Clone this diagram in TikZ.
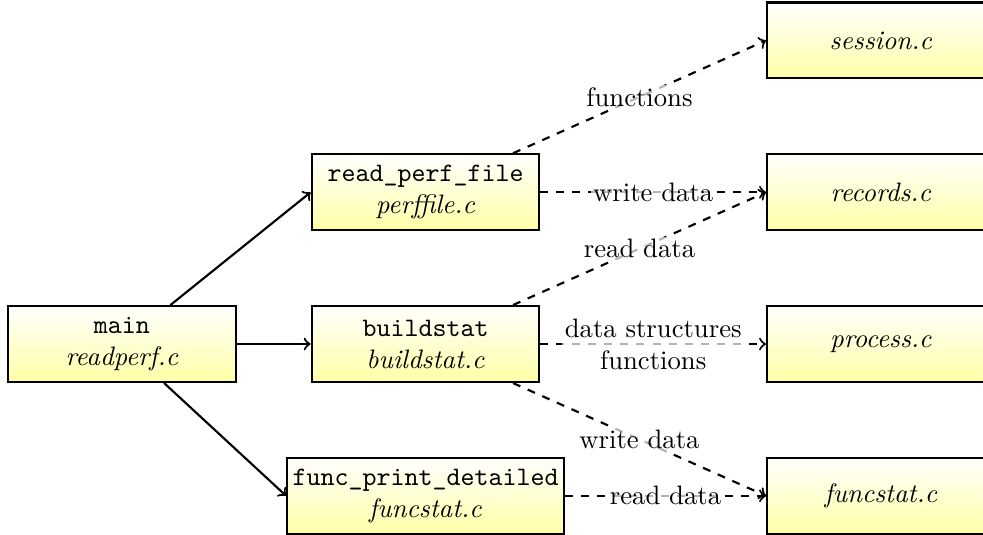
\documentclass[tikz,border=0pt]{standalone}
\usetikzlibrary{arrows}
\begin{document}
\begin{tikzpicture}[
  module/.style={draw=black, thick, shade, top color=white, bottom color=yellow!35,
    minimum width=3cm, minimum height=1cm, align=center, inner sep=2pt},
  call/.style={->, thick},
  uses/.style={->, thick, dashed},
  tag/.style={fill=white, fill opacity=0.7, text opacity=1, inner sep=1pt, align=center}
]
\useasboundingbox (-1.607,-2.503) rectangle (11.345,4.533);

\node[module] (main) at (0,0)  {\texttt{main}\\\textit{readperf.c}};
\node[module] (rpf)  at (4,2)  {\texttt{read\_perf\_file}\\\textit{perffile.c}};
\node[module] (bs)   at (4,0)  {\texttt{buildstat}\\\textit{buildstat.c}};
\node[module] (fpd)  at (4,-2) {\texttt{func\_print\_detailed}\\\textit{funcstat.c}};

\node[module] (session) at (10,4)  {\textit{session.c}};
\node[module] (records) at (10,2)  {\textit{records.c}};
\node[module] (process) at (10,0)  {\textit{process.c}};
\node[module] (fstat)   at (10,-2) {\textit{funcstat.c}};

\draw[call] (main) -- (rpf.west);
\draw[call] (main) -- (bs.west);
\draw[call] (main) -- (fpd.west);

\draw[uses] (rpf) -- node[tag] {functions} (session.west);
\draw[uses] (rpf) -- node[tag] {write data} (records.west);
\draw[uses] (bs) -- node[tag] {read data} (records.west);
\draw[uses] (bs) -- node[tag] {data structures\\functions} (process.west);
\draw[uses] (bs) -- node[tag] {write data} (fstat.west);
\draw[uses] (fpd) -- node[tag] {read data} (fstat.west);
\end{tikzpicture}
\end{document}
